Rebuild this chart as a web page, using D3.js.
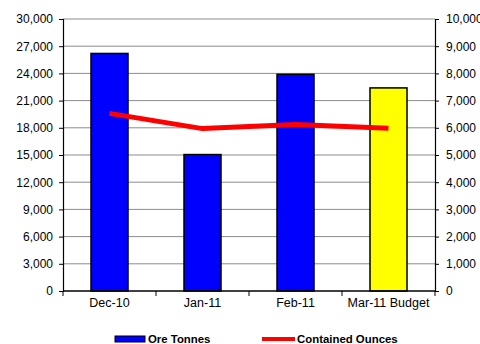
<!DOCTYPE html>
<html>
<head>
<meta charset="utf-8">
<script src="https://cdn.jsdelivr.net/npm/d3@7/dist/d3.min.js"></script>
<style>
  html, body { margin: 0; padding: 0; background: #fff; }
  svg { display: block; font-family: "Liberation Sans", Arial, Helvetica, sans-serif; }
</style>
</head>
<body>
<svg id="chart" width="480" height="344"></svg>
<script>
// Monthly production data
const months = ["Dec-10", "Jan-11", "Feb-11", "Mar-11 Budget"];
const oreTonnes = [26200, 15050, 23900, 22400];
const containedOunces = [6530, 5970, 6120, 5980];
const barColors = ["#0000ff", "#0000ff", "#0000ff", "#ffff00"];
const leftTicks = [0, 3000, 6000, 9000, 12000, 15000, 18000, 21000, 24000, 27000, 30000];
const rightTicks = [0, 1000, 2000, 3000, 4000, 5000, 6000, 7000, 8000, 9000, 10000];

const svg = d3.select("#chart");
const plot = { left: 63, right: 435, top: 19, bottom: 291 };
const fmt = d3.format(",");

const xOuter = d3.scaleBand().domain(months).range([plot.left, plot.right]);
const yL = d3.scaleLinear().domain([0, 30000]).range([plot.bottom, plot.top]);
const yR = d3.scaleLinear().domain([0, 10000]).range([plot.bottom, plot.top]);

// Horizontal gridlines
svg.append("g").selectAll("line").data(leftTicks.slice(1)).join("line")
  .attr("x1", plot.left).attr("x2", plot.right)
  .attr("y1", d => yL(d)).attr("y2", d => yL(d))
  .attr("stroke", "#8c8c8c").attr("stroke-width", 1);

// Bars
const bw = 37;
svg.append("g").selectAll("rect").data(months).join("rect")
  .attr("x", d => xOuter(d) + xOuter.bandwidth() / 2 - bw / 2)
  .attr("width", bw)
  .attr("y", (d, i) => yL(oreTonnes[i]))
  .attr("height", (d, i) => plot.bottom - yL(oreTonnes[i]))
  .attr("fill", (d, i) => barColors[i])
  .attr("stroke", "#000").attr("stroke-width", 1.5);

// Contained ounces line
const line = d3.line()
  .x((d, i) => xOuter(months[i]) + xOuter.bandwidth() / 2)
  .y(d => yR(d));
svg.append("path").datum(containedOunces)
  .attr("d", line)
  .attr("fill", "none").attr("stroke", "#ff0000").attr("stroke-width", 5)
  .attr("stroke-linejoin", "round");

// Left axis
const axL = svg.append("g").attr("transform", `translate(${plot.left},0)`)
  .call(d3.axisLeft(yL).tickValues(leftTicks).tickFormat(fmt).tickSize(4).tickPadding(6));
// Right axis
const axR = svg.append("g").attr("transform", `translate(${plot.right},0)`)
  .call(d3.axisRight(yR).tickValues(rightTicks).tickFormat(fmt).tickSize(4).tickPadding(7));
[axL, axR].forEach(ax => {
  ax.select(".domain").attr("stroke", "#000").attr("stroke-width", 1.2);
  ax.selectAll(".tick line").attr("stroke", "#000");
  ax.selectAll("text").attr("font-size", 12).attr("fill", "#000")
    .attr("font-family", "'Liberation Sans', Arial, sans-serif");
});

// Bottom axis: ticks at category boundaries
const boundaries = months.map(m => xOuter(m)).concat([plot.right]);
const axB = svg.append("g");
axB.append("line").attr("x1", plot.left).attr("x2", plot.right)
  .attr("y1", plot.bottom).attr("y2", plot.bottom)
  .attr("stroke", "#000").attr("stroke-width", 1.5);
axB.selectAll(".bt").data(boundaries).join("line")
  .attr("x1", d => d).attr("x2", d => d)
  .attr("y1", plot.bottom).attr("y2", plot.bottom + 5)
  .attr("stroke", "#000");
axB.selectAll("text").data(months).join("text")
  .attr("x", d => xOuter(d) + xOuter.bandwidth() / 2)
  .attr("y", 307)
  .attr("text-anchor", "middle")
  .attr("font-size", 12.5)
  .text(d => d);

// Legend
const lg = svg.append("g");
lg.append("rect").attr("x", 115).attr("y", 336).attr("width", 30).attr("height", 6)
  .attr("fill", "#0000ff").attr("stroke", "#000").attr("stroke-width", 1);
lg.append("text").attr("x", 148).attr("y", 343).attr("font-size", 11.4).attr("font-weight", "bold")
  .text("Ore Tonnes");
lg.append("line").attr("x1", 262).attr("x2", 295).attr("y1", 339).attr("y2", 339)
  .attr("stroke", "#ff0000").attr("stroke-width", 4);
lg.append("text").attr("x", 297).attr("y", 343).attr("font-size", 11.4).attr("font-weight", "bold")
  .text("Contained Ounces");
</script>
</body>
</html>
